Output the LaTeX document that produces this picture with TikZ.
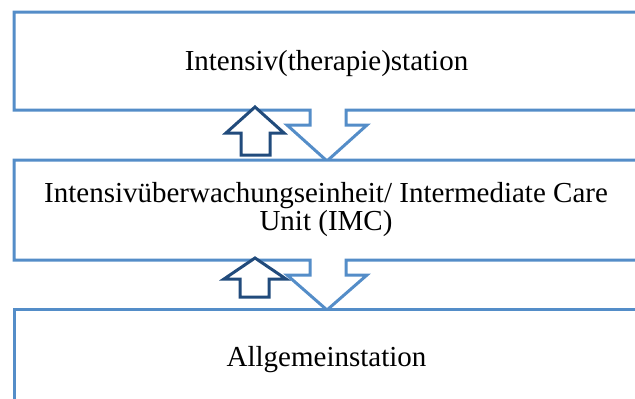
\documentclass[tikz,border=0pt]{standalone}
\usepackage{fontspec}
\setmainfont{Liberation Serif}
\definecolor{boxblue}{RGB}{84,141,200}
\definecolor{arrowblue}{RGB}{33,75,124}
\tikzset{
  boxline/.style={draw=boxblue, line width=3pt, fill=white, line join=miter},
  uparrow/.style={draw=arrowblue, line width=3pt, fill=white, line join=miter},
  label/.style={inner sep=0pt, anchor=base, font=\fontsize{29}{26}\selectfont}
}
\begin{document}
\begin{tikzpicture}[x=1pt,y=-1pt]
\useasboundingbox (0,0) rectangle (635,399);
\clip (0,0) rectangle (635,399);
% top box with merged down arrow
\draw[boxline] (14,12) -- (639,12) -- (639,110) -- (346,110) -- (346,125) -- (367,125)
  -- (327,161) -- (287,125) -- (310,125) -- (310,110) -- (14,110) -- cycle;
% middle box with merged down arrow
\draw[boxline] (14,160) -- (639,160) -- (639,260) -- (346,260) -- (346,275) -- (367,275)
  -- (327,310) -- (287,275) -- (310,275) -- (310,260) -- (14,260) -- cycle;
% bottom box
\draw[boxline] (14,309) -- (639,309) -- (639,420) -- (14,420) -- cycle;
% up arrows
\draw[uparrow] (255,107) -- (284,133) -- (270,133) -- (270,155) -- (241,155) -- (241,133) -- (226,133) -- cycle;
\draw[uparrow] (255,258) -- (286,279) -- (269,279) -- (269,297) -- (240,297) -- (240,279) -- (224,279) -- cycle;
% texts
\node[label] (its) at (326.5,70) {Intensiv(therapie)station};
\node[label] (imcA) at (326,202) {Intensivüberwachungseinheit/ Intermediate Care};
\node[label] (imcB) at (326,230) {Unit (IMC)};
\node[label] (allg) at (326.5,366) {Allgemeinstation};
\end{tikzpicture}
\end{document}
